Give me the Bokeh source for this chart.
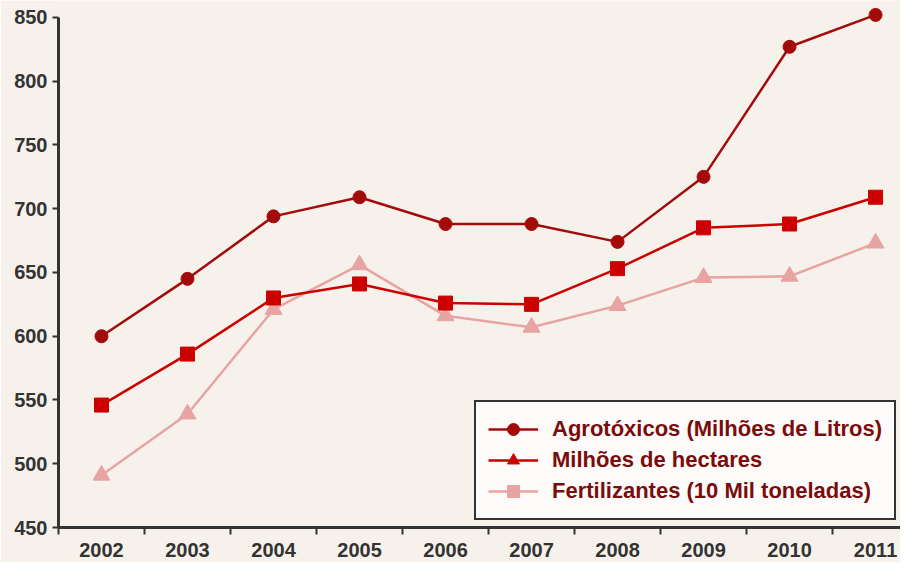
from bokeh.plotting import figure
from bokeh.models import Range1d, FixedTicker, Legend, LegendItem, ColumnDataSource
from bokeh.embed import file_html
from bokeh.resources import INLINE

years = ["2002", "2003", "2004", "2005", "2006", "2007", "2008", "2009", "2010", "2011"]
agrotoxicos = [600, 645, 694, 709, 688, 688, 674, 725, 827, 852]
hectares = [546, 586, 630, 641, 626, 625, 653, 685, 688, 709]
fertilizantes = [491, 539, 621, 656, 616, 607, 624, 646, 647, 673]
y_ticks = [450, 500, 550, 600, 650, 700, 750, 800, 850]
labels = ["Agrotóxicos (Milhões de Litros)", "Milhões de hectares", "Fertilizantes (10 Mil toneladas)"]

c_agro = "#A30B0B"
c_hect = "#CC0000"
c_fert = "#E8A3A3"
bg = "#F6F2EB"
axis_c = "#333333"

xs = list(range(len(years)))

p = figure(width=900, height=562, output_backend="svg", toolbar_location=None,
           x_range=Range1d(-0.5, 9.29), y_range=Range1d(450, 863.3),
           min_border_left=58, min_border_right=0, min_border_top=0, min_border_bottom=35,
           background_fill_color=bg, border_fill_color=bg, outline_line_color=None)
p.xgrid.grid_line_color = None
p.ygrid.grid_line_color = None

# axes
p.yaxis.ticker = FixedTicker(ticks=y_ticks)
p.yaxis.bounds = (450, 850)
p.xaxis.ticker = FixedTicker(ticks=xs, minor_ticks=[i + 0.5 for i in range(-1, len(years))])
p.xaxis.major_label_overrides = {i: y for i, y in enumerate(years)}
p.xaxis.major_tick_line_color = None
p.xaxis.minor_tick_in = 0
p.xaxis.minor_tick_out = 7
p.xaxis.minor_tick_line_color = axis_c
p.xaxis.minor_tick_line_width = 2
for ax in (p.xaxis, p.yaxis):
    ax.axis_line_color = axis_c
    ax.axis_line_width = 3
    ax.major_label_text_font = "Liberation Sans"
    ax.major_label_text_font_style = "bold"
    ax.major_label_text_font_size = "20px"
    ax.major_label_text_color = axis_c
p.yaxis.major_tick_in = 0
p.yaxis.major_tick_out = 6
p.yaxis.major_tick_line_color = axis_c
p.yaxis.major_tick_line_width = 2
p.yaxis.minor_tick_line_color = None
p.yaxis.major_label_standoff = 5
p.xaxis.major_label_standoff = 8

src = ColumnDataSource(dict(x=xs, a=agrotoxicos, h=hectares, f=fertilizantes))

p.line("x", "f", source=src, line_color=c_fert, line_width=2.5)
p.scatter("x", "f", source=src, marker="triangle", size=17, fill_color=c_fert, line_color=c_fert)
p.line("x", "h", source=src, line_color=c_hect, line_width=2.5)
p.scatter("x", "h", source=src, marker="square", size=14, fill_color=c_hect, line_color=c_hect)
p.line("x", "a", source=src, line_color=c_agro, line_width=2.5)
p.scatter("x", "a", source=src, marker="circle", size=13, fill_color=c_agro, line_color=c_agro)

# legend glyphs (the original's legend shows different markers than the plot)
nan = float("nan")
empty = ColumnDataSource(dict(x=[nan], y=[nan]))
la1 = p.line("x", "y", source=empty, line_color=c_agro, line_width=2.5)
lm1 = p.scatter("x", "y", source=empty, marker="circle", size=13, fill_color=c_agro, line_color=c_agro)
la2 = p.line("x", "y", source=empty, line_color=c_hect, line_width=2.5)
lm2 = p.scatter("x", "y", source=empty, marker="triangle", size=16, fill_color=c_hect, line_color=c_hect)
la3 = p.line("x", "y", source=empty, line_color=c_fert, line_width=2.5)
lm3 = p.scatter("x", "y", source=empty, marker="square", size=13, fill_color=c_fert, line_color=c_fert)

legend = Legend(items=[LegendItem(label=labels[0], renderers=[la1, lm1]),
                       LegendItem(label=labels[1], renderers=[la2, lm2]),
                       LegendItem(label=labels[2], renderers=[la3, lm3])],
                location=(416, 7))
legend.label_text_font = "Liberation Sans"
legend.label_text_font_style = "bold"
legend.label_text_font_size = "22px"
legend.label_text_color = "#7A0C0C"
legend.glyph_width = 50
legend.glyph_height = 30
legend.label_height = 30
legend.label_standoff = 14
legend.spacing = 1
legend.padding = 12
legend.margin = 0
legend.border_line_color = axis_c
legend.border_line_alpha = 1.0
legend.border_line_width = 2.5
legend.background_fill_color = "#FFFFFF"
legend.background_fill_alpha = 0.7
p.add_layout(legend, "center")

open("out.html", "w").write(file_html(p, INLINE))
